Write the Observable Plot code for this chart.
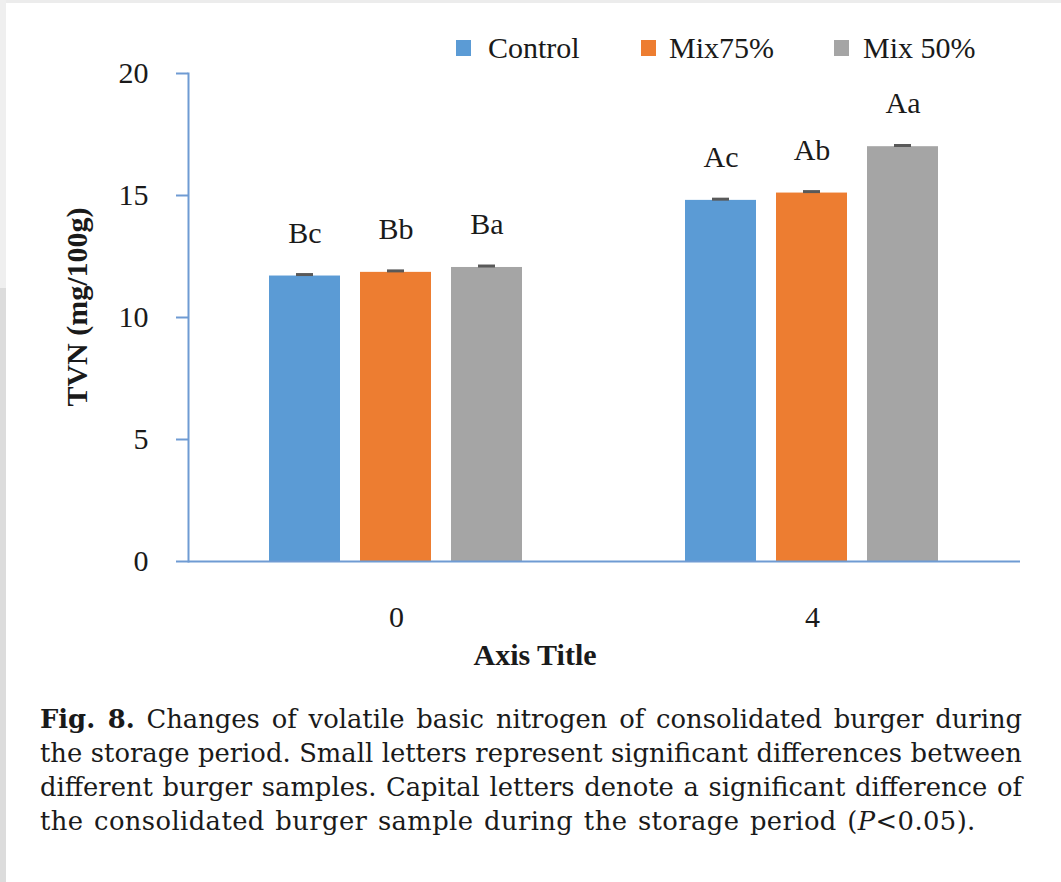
<!DOCTYPE html>
<html>
<head>
<meta charset="utf-8">
<script src="https://cdn.jsdelivr.net/npm/d3@7"></script>
<script src="https://cdn.jsdelivr.net/npm/@observablehq/plot@0.6"></script>
<style>
  html, body { margin: 0; padding: 0; background: #ffffff; }
  #wrap { position: relative; width: 1061px; height: 882px; overflow: hidden; background: #ffffff; }
  .strip { position: absolute; }
  #chart { position: absolute; left: 0; top: 0; }
  .abs { position: absolute; white-space: nowrap; line-height: 1; }
  .serif { font-family: "Liberation Serif", "Times New Roman", serif; color: #1a1a1a; }
  .legend-item { position: absolute; top: 48px; transform: translateY(-50%); display: flex; align-items: center; font-family: "Liberation Serif", serif; font-size: 30px; color: #1a1a1a; line-height: 1; }
  .swatch { display: inline-block; width: 15px; height: 16px; }
  .cap { position: absolute; left: 40px; width: 982px; font-family: "DejaVu Serif", serif; font-size: 25.8px; line-height: 34px; color: #1a1a1a; white-space: nowrap; }
  .just { text-align: justify; text-align-last: justify; }
</style>
</head>
<body>
<div id="wrap">
  <div class="strip" style="left:0;top:0;width:1061px;height:3px;background:#ececec"></div>
  <div class="strip" style="left:0;top:0;width:6px;height:288px;background:#efefef"></div>
  <div class="strip" style="left:0;top:288px;width:6px;height:594px;background:#dcdcdc"></div>
  <div id="chart"></div>
  <div id="legend"></div>
  <div class="abs serif" style="left:77px;top:307px;transform:translate(-50%,-50%) rotate(-90deg);font-size:30px;font-weight:bold;">TVN (mg/100g)</div>
  <div class="abs serif" style="left:535px;top:655px;transform:translate(-50%,-50%);font-size:30px;font-weight:bold;">Axis Title</div>
  <div class="cap just" style="top:702px"><b>Fig. 8.</b> Changes of volatile basic nitrogen of consolidated burger during</div>
  <div class="cap just" style="top:736px">the storage period. Small letters represent significant differences between</div>
  <div class="cap just" style="top:770px">different burger samples. Capital letters denote a significant difference of</div>
  <div class="cap" style="top:804px;letter-spacing:0.4px;word-spacing:2px">the consolidated burger sample during the storage period (<i>P</i>&lt;0.05).</div>
</div>
<script>
// ---- data ----
const days = ["0", "4"];
const series = ["Control", "Mix75%", "Mix 50%"];
const seriesColors = ["#5b9bd5", "#ed7d31", "#a5a5a5"];
const valuesDay0 = [11.7, 11.85, 12.05];
const valuesDay4 = [14.8, 15.1, 17.0];
const errorsDay0 = [0.06, 0.06, 0.06];
const errorsDay4 = [0.05, 0.06, 0.05];
const lettersDay0 = ["Bc", "Bb", "Ba"];
const lettersDay4 = ["Ac", "Ab", "Aa"];
const yTicks = [0, 5, 10, 15, 20];

const rows = [];
series.forEach((s, i) => {
  rows.push({day: days[0], series: s, value: valuesDay0[i], err: errorsDay0[i], letter: lettersDay0[i]});
  rows.push({day: days[1], series: s, value: valuesDay4[i], err: errorsDay4[i], letter: lettersDay4[i]});
});

const axisColor = "#6f9bd3";

const chart = Plot.plot({
  width: 1061,
  height: 700,
  marginLeft: 187,
  marginRight: 41,
  marginTop: 73,
  marginBottom: 139,
  style: {fontFamily: "'Liberation Serif', serif", fontSize: "30px", color: "#1a1a1a", background: "transparent", overflow: "visible"},
  fx: {domain: days, padding: 0, label: null},
  x: {domain: series, paddingInner: 0.217, paddingOuter: 0.87, axis: null},
  y: {domain: [0, 20]},
  color: {domain: series, range: seriesColors},
  marks: [
    Plot.barY(rows, {fx: "day", x: "series", y: "value", fill: "series"}),
    Plot.tickY(rows, {fx: "day", x: "series", y: d => d.value + d.err, stroke: "#595959", strokeWidth: 3, insetLeft: 27, insetRight: 27}),
    Plot.text(rows, {fx: "day", x: "series", y: "value", text: "letter", dy: -43, fontSize: 30, fill: "#1a1a1a"}),
    Plot.ruleY([0], {stroke: axisColor, strokeWidth: 2}),
    Plot.frame({anchor: "left", facetAnchor: "left", stroke: axisColor, strokeWidth: 2}),
    Plot.axisY({ticks: yTicks, tickSize: 12, tickPadding: 28, stroke: axisColor, strokeWidth: 2, fill: "#1a1a1a", label: null, fontSize: 30}),
    Plot.axisFx({anchor: "bottom", tickSize: 0, tickPadding: 44, label: null, fontSize: 30, fill: "#1a1a1a"})
  ]
});
document.getElementById("chart").appendChild(chart);

// legend built from the series
const legendLeft = [456, 641, 834];
const legend = document.getElementById("legend");
series.forEach((s, i) => {
  const item = document.createElement("div");
  item.className = "legend-item";
  item.style.left = legendLeft[i] + "px";
  const sw = document.createElement("span");
  sw.className = "swatch";
  sw.style.background = seriesColors[i];
  sw.style.marginRight = (i === 2 ? 14 : i === 1 ? 13 : 17) + "px";
  const t = document.createElement("span");
  t.textContent = s;
  item.appendChild(sw);
  item.appendChild(t);
  legend.appendChild(item);
});
</script>
</body>
</html>
